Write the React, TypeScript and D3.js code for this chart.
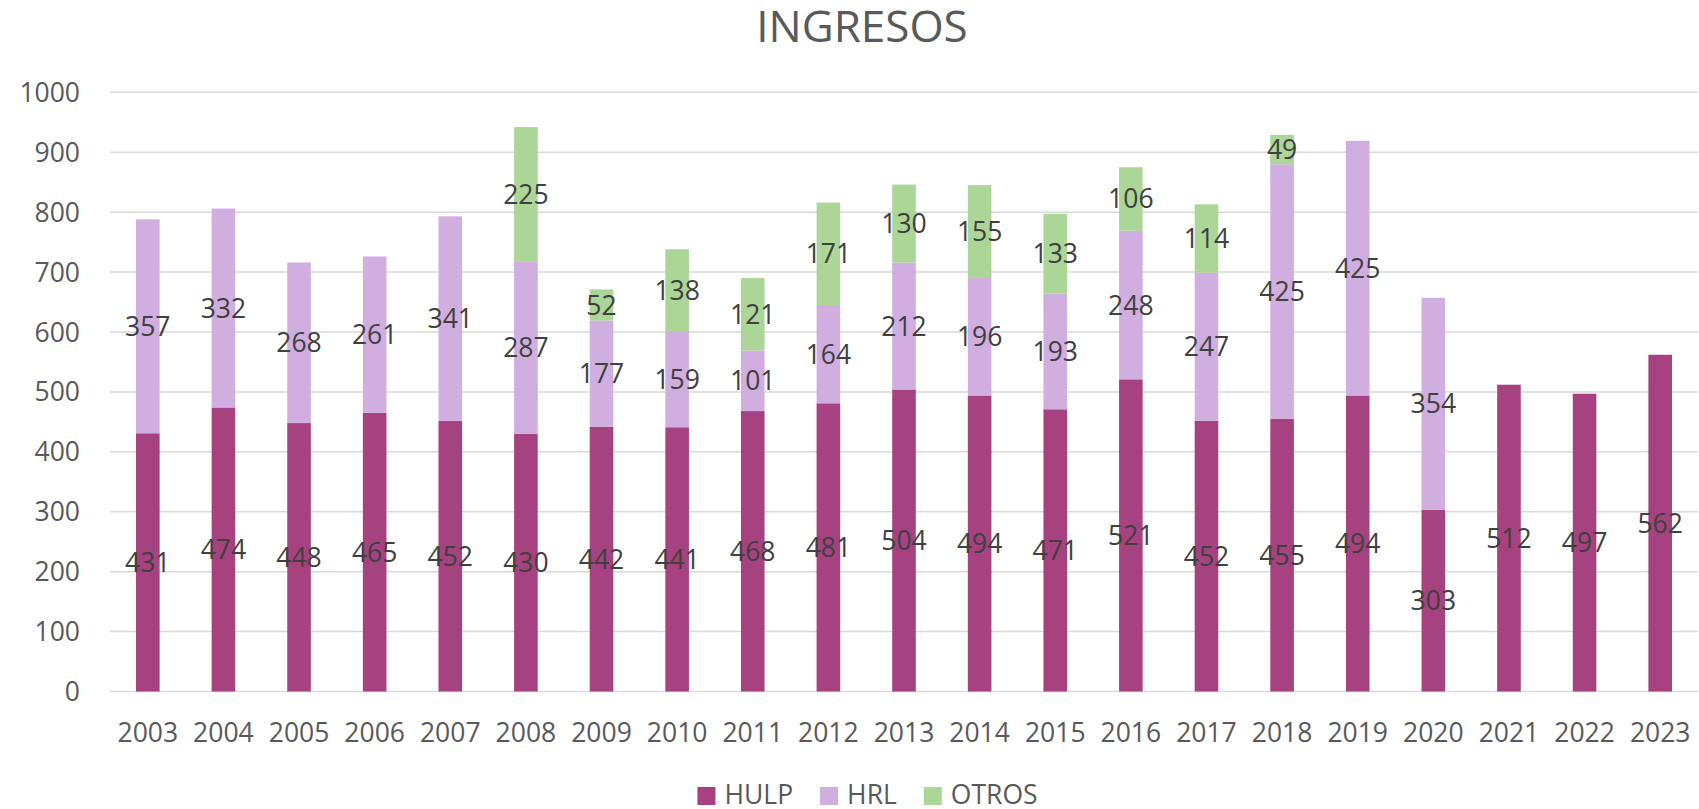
import React from "react";
import * as d3 from "d3";

const years = ["2003", "2004", "2005", "2006", "2007", "2008", "2009", "2010", "2011", "2012", "2013", "2014", "2015", "2016", "2017", "2018", "2019", "2020", "2021", "2022", "2023"];
const hulp = [431, 474, 448, 465, 452, 430, 442, 441, 468, 481, 504, 494, 471, 521, 452, 455, 494, 303, 512, 497, 562];
const hrl = [357, 332, 268, 261, 341, 287, 177, 159, 101, 164, 212, 196, 193, 248, 247, 425, 425, 354, 0, 0, 0];
const otros = [0, 0, 0, 0, 0, 225, 52, 138, 121, 171, 130, 155, 133, 106, 114, 49, 0, 0, 0, 0, 0];
const seriesNames = ["HULP", "HRL", "OTROS"];
const colors = ["#A5427F", "#D0AEE0", "#ACD598"];
const yTicks = [0, 100, 200, 300, 400, 500, 600, 700, 800, 900, 1000];

const width = 1699;
const height = 809;
const font = "'Open Sans', sans-serif";

export default function App() {
  const stageRef = React.useRef<SVGSVGElement>(null);

  React.useEffect(() => {
    const svg = d3.select(stageRef.current);
    svg.selectAll("*").remove();

    const x = d3.scaleBand().domain(years).range([110, 1698]).paddingInner(0.688).paddingOuter(0.344);
    const y = d3.scaleLinear().domain([0, 1000]).range([691.5, 92.3]);

    // gridlines
    svg.append("g")
      .selectAll("line")
      .data(yTicks)
      .enter()
      .append("line")
      .attr("x1", 110)
      .attr("x2", 1698)
      .attr("y1", d => y(d))
      .attr("y2", d => y(d))
      .attr("stroke", "#D9D9D9")
      .attr("stroke-width", 1.5);

    // y labels
    svg.append("g")
      .selectAll("text")
      .data(yTicks)
      .enter()
      .append("text")
      .attr("x", 80)
      .attr("y", d => y(d))
      .attr("dy", "0.36em")
      .attr("text-anchor", "end")
      .style("font-family", font)
      .style("font-size", "26.5px")
      .attr("fill", "#595959")
      .text(d => d);

    // x labels
    svg.append("g")
      .selectAll("text")
      .data(years)
      .enter()
      .append("text")
      .attr("x", d => x(d)! + x.bandwidth() / 2)
      .attr("y", 742)
      .attr("text-anchor", "middle")
      .style("font-family", font)
      .style("font-size", "26.5px")
      .attr("fill", "#595959")
      .text(d => d);

    const rows = years.map((yr, i) => ({ year: yr, HULP: hulp[i], HRL: hrl[i], OTROS: otros[i] }));
    const stacked = d3.stack<any>().keys(seriesNames)(rows);

    const layers = svg.append("g")
      .selectAll("g.layer")
      .data(stacked)
      .enter()
      .append("g")
      .attr("class", "layer")
      .attr("fill", (d, i) => colors[i]);

    layers.selectAll("rect")
      .data(d => d.filter(s => s[1] - s[0] > 0))
      .enter()
      .append("rect")
      .attr("x", d => x(d.data.year)!)
      .attr("width", x.bandwidth())
      .attr("y", d => y(d[1]))
      .attr("height", d => y(d[0]) - y(d[1]));

    // data labels
    const labelGroup = svg.append("g");
    stacked.forEach(layer => {
      labelGroup.selectAll(null)
        .data(layer.filter(s => s[1] - s[0] > 0))
        .enter()
        .append("text")
        .attr("x", d => x(d.data.year)! + x.bandwidth() / 2)
        .attr("y", d => y((d[0] + d[1]) / 2))
        .attr("dy", "0.36em")
        .attr("text-anchor", "middle")
        .style("font-family", font)
        .style("font-size", "26.5px")
        .attr("fill", "#404040")
        .text(d => d[1] - d[0]);
    });

    // title
    svg.append("text")
      .attr("x", 862)
      .attr("y", 41.7)
      .attr("text-anchor", "middle")
      .style("font-family", font)
      .style("font-size", "44px")
      .attr("fill", "#595959")
      .text("INGRESOS");

    // legend
    const legend = svg.append("g");
    let cursor = 0;
    seriesNames.forEach((name, i) => {
      const item = legend.append("g").attr("transform", `translate(${cursor},0)`);
      item.append("rect").attr("x", 0).attr("y", 787).attr("width", 18).attr("height", 18).attr("fill", colors[i]);
      const t = item.append("text")
        .attr("x", 27)
        .attr("y", 804)
        .style("font-family", font)
        .style("font-size", "26.5px")
        .attr("fill", "#595959")
        .text(name);
      const w = (t.node() as SVGTextElement).getComputedTextLength();
      cursor += 27 + w + 27;
    });
    const total = cursor - 27;
    legend.attr("transform", `translate(${867.5 - total / 2},0)`);
  }, []);

  return (
    <svg
      ref={stageRef}
      width={width}
      height={height}
      style={{ position: "absolute", left: 0, top: 0, background: "#fff" }}
    />
  );
}
